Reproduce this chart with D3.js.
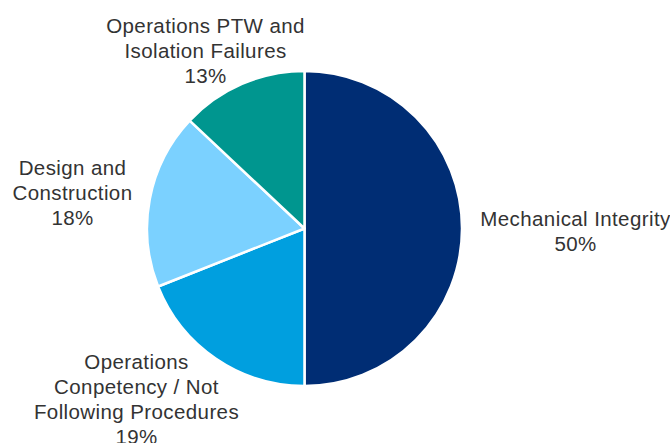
<!DOCTYPE html>
<html>
<head>
<meta charset="utf-8">
<script src="https://cdn.jsdelivr.net/npm/d3@7"></script>
<style>
  html, body { margin: 0; padding: 0; background: #fff; }
  svg { display: block; }
</style>
</head>
<body>
<svg id="chart" width="670" height="443"></svg>
<script>
// ---- data ----
const categories = [
  "Mechanical Integrity",
  "Operations Conpetency / Not Following Procedures",
  "Design and Construction",
  "Operations PTW and Isolation Failures"
];
const values = [50, 19, 18, 13];
const labelLines = [
  ["Mechanical Integrity"],
  ["Operations", "Conpetency / Not", "Following Procedures"],
  ["Design and", "Construction"],
  ["Operations PTW and", "Isolation Failures"]
];
const colors = ["#002D74", "#009FDF", "#7BD1FF", "#00968F"];

// ---- layout (label block centres relative to pie centre) ----
const labelOffsets = [[271, 3], [-168, 171], [-232, -36], [-99, -178]];

const width = 670, height = 443;
const cx = 304.5, cy = 228.5, radius = 157.5;
const fontSize = 20.5, lineH = 25;

const svg = d3.select("#chart");
const g = svg.append("g").attr("transform", `translate(${cx},${cy})`);

const data = categories.map((c, i) => ({ name: c, value: values[i], idx: i }));
const pie = d3.pie().sort(null).value(d => d.value).startAngle(0).endAngle(2 * Math.PI);
const arc = d3.arc().innerRadius(0).outerRadius(radius);
const arcs = pie(data);
const total = d3.sum(values);

g.selectAll("path.slice")
  .data(arcs)
  .join("path")
  .attr("class", "slice")
  .attr("d", arc)
  .attr("fill", d => colors[d.data.idx])
  .attr("stroke", "#fff")
  .attr("stroke-width", 2.5)
  .attr("stroke-linejoin", "round");

const labels = g.selectAll("text.lbl")
  .data(arcs)
  .join("text")
  .attr("class", "lbl")
  .attr("text-anchor", "middle")
  .attr("font-family", "'Liberation Sans', Arial, sans-serif")
  .attr("font-size", fontSize)
  .attr("letter-spacing", "0.4px")
  .attr("fill", "#333333");

labels.each(function(d) {
  const i = d.data.idx;
  const lines = labelLines[i].concat([d3.format(".0%")(d.value / total)]);
  const n = lines.length;
  const [ox, oy] = labelOffsets[i];
  const firstBaseline = oy - (n - 1) * lineH / 2 + fontSize * 0.35;
  const t = d3.select(this);
  lines.forEach((ln, k) => {
    t.append("tspan")
      .attr("x", ox)
      .attr("y", firstBaseline + k * lineH)
      .text(ln);
  });
});
</script>
</body>
</html>
